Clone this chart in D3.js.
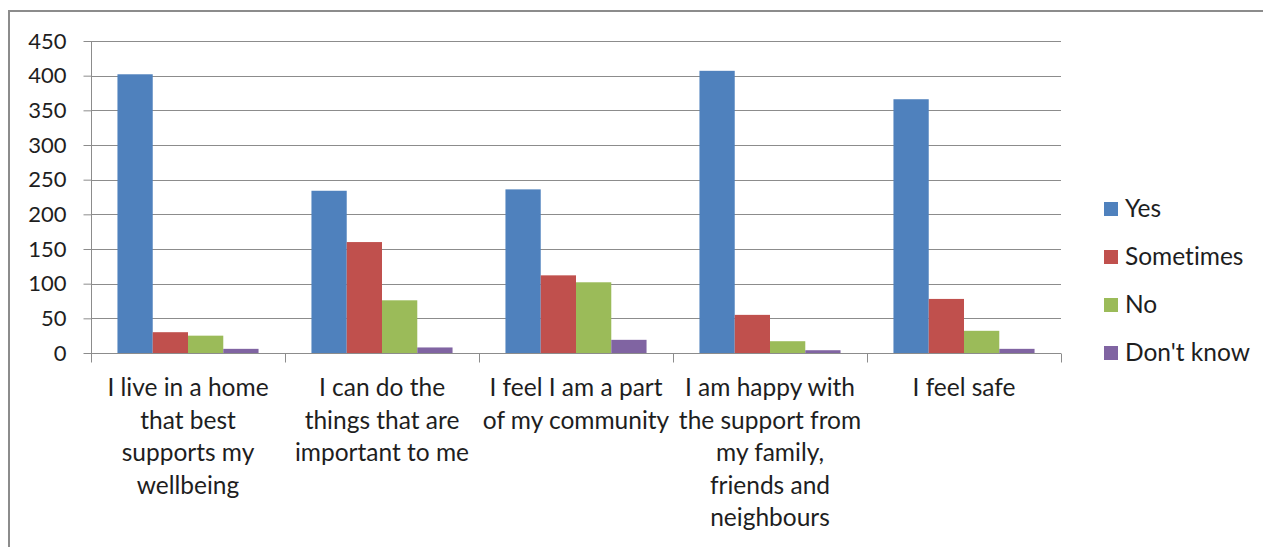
<!DOCTYPE html>
<html>
<head>
<meta charset="utf-8">
<script src="https://cdn.jsdelivr.net/npm/d3@7"></script>
<style>
  body { margin: 0; background: #fff; }
  svg { display: block; font-family: Lato, "Open Sans", sans-serif; font-variant-ligatures: none; }
</style>
</head>
<body>
<script>
// chart data
const categories = [
    ["I live in a home", "that best", "supports my", "wellbeing"],
    ["I can do the", "things that are", "important to me"],
    ["I feel I am a part", "of my community"],
    ["I am happy with", "the support from", "my family,", "friends and", "neighbours"],
    ["I feel safe"]
];
const seriesNames = ["Yes", "Sometimes", "No", "Don't know"];
const yes = [402, 234, 236, 407, 366];
const sometimes = [30, 160, 112, 55, 78];
const no = [25, 76, 102, 17, 32];
const dontKnow = [6, 8, 19, 4, 6];
const yTicks = [0, 50, 100, 150, 200, 250, 300, 350, 400, 450];
const colors = ["#4f81bd", "#c0504d", "#9bbb59", "#8064a2"];

let series = [yes, sometimes, no, dontKnow];

let width = 1263, height = 547;
let margin = {top: 41, left: 91, right: 1263 - 1061, bottom: 547 - 353};

let svg = d3.select("body").append("svg")
    .attr("width", width)
    .attr("height", height);

// outer frame (only top and left visible)
svg.append("path")
    .attr("d", "M9,547 L9,11 L1263,11")
    .attr("fill", "none")
    .attr("stroke", "#8c8c8c")
    .attr("stroke-width", 2);

let x0 = d3.scaleBand()
    .domain(d3.range(categories.length))
    .range([margin.left, width - margin.right])
    .paddingInner(0).paddingOuter(0);

let barW = x0.bandwidth() / 5.5;
let x1 = d3.scaleBand()
    .domain(d3.range(seriesNames.length))
    .range([barW * 0.75, x0.bandwidth() - barW * 0.75]);

let y = d3.scaleLinear()
    .domain([0, 450])
    .range([height - margin.bottom, margin.top]);

// gridlines
svg.append("g")
    .selectAll("line")
    .data(yTicks.slice(1))
    .enter().append("line")
    .attr("x1", margin.left)
    .attr("x2", width - margin.right)
    .attr("y1", d => Math.round(y(d)) + 0.5)
    .attr("y2", d => Math.round(y(d)) + 0.5)
    .attr("stroke", "#8c8c8c")
    .attr("stroke-width", 1);

// y axis
let yAxis = svg.append("g")
    .attr("transform", "translate(" + (margin.left + 0.5) + ",0)")
    .call(d3.axisLeft(y).tickValues(yTicks).tickSize(8).tickPadding(17));
yAxis.selectAll("line, path").attr("stroke", "#8c8c8c");
yAxis.select(".domain").attr("d", "M0," + y(450) + "V" + y(0));
yAxis.selectAll("text")
    .attr("fill", "#1e1e1e")
    .style("font-size", "22px")
    .style("font-family", "Lato, sans-serif");

// bars
let groups = svg.append("g")
    .selectAll("g")
    .data(categories.map((c, i) => i))
    .enter().append("g")
    .attr("transform", i => "translate(" + x0(i) + ",0)");

groups.selectAll("rect")
    .data(i => series.map((s, k) => ({k: k, v: s[i]})))
    .enter().append("rect")
    .attr("x", d => x1(d.k))
    .attr("width", x1.bandwidth())
    .attr("y", d => y(d.v))
    .attr("height", d => y(0) - y(d.v))
    .attr("fill", d => colors[d.k]);

// x axis
let xAxisG = svg.append("g")
    .attr("transform", "translate(0," + (Math.round(y(0)) + 0.5) + ")");
xAxisG.append("line")
    .attr("x1", margin.left).attr("x2", width - margin.right)
    .attr("stroke", "#8c8c8c");
xAxisG.selectAll("line.tick")
    .data(d3.range(categories.length + 1))
    .enter().append("line")
    .attr("class", "tick")
    .attr("x1", i => Math.round(margin.left + i * x0.bandwidth()) + 0.5)
    .attr("x2", i => Math.round(margin.left + i * x0.bandwidth()) + 0.5)
    .attr("y1", 0).attr("y2", 9)
    .attr("stroke", "#8c8c8c");

// category labels
let labels = svg.append("g")
    .selectAll("text")
    .data(categories)
    .enter().append("text")
    .attr("x", (c, i) => x0(i) + x0.bandwidth() / 2)
    .attr("y", y(0) + 43)
    .attr("text-anchor", "middle")
    .attr("fill", "#1e1e1e")
    .style("font-size", "24.5px");
labels.selectAll("tspan")
    .data(c => c)
    .enter().append("tspan")
    .attr("x", function () { return this.parentNode.getAttribute("x"); })
    .attr("dy", (d, j) => j === 0 ? 0 : 32.6)
    .text(d => d);

// legend
let legend = svg.append("g")
    .selectAll("g")
    .data(seriesNames)
    .enter().append("g")
    .attr("transform", (d, i) => "translate(1104," + (209 + i * 48) + ")");
legend.append("rect")
    .attr("x", 0).attr("y", -7)
    .attr("width", 14).attr("height", 14)
    .attr("fill", (d, i) => colors[i]);
legend.append("text")
    .attr("x", 21)
    .attr("y", 8)
    .attr("fill", "#1e1e1e")
    .style("font-size", "24.5px")
    .text(d => d);
</script>
</body>
</html>
